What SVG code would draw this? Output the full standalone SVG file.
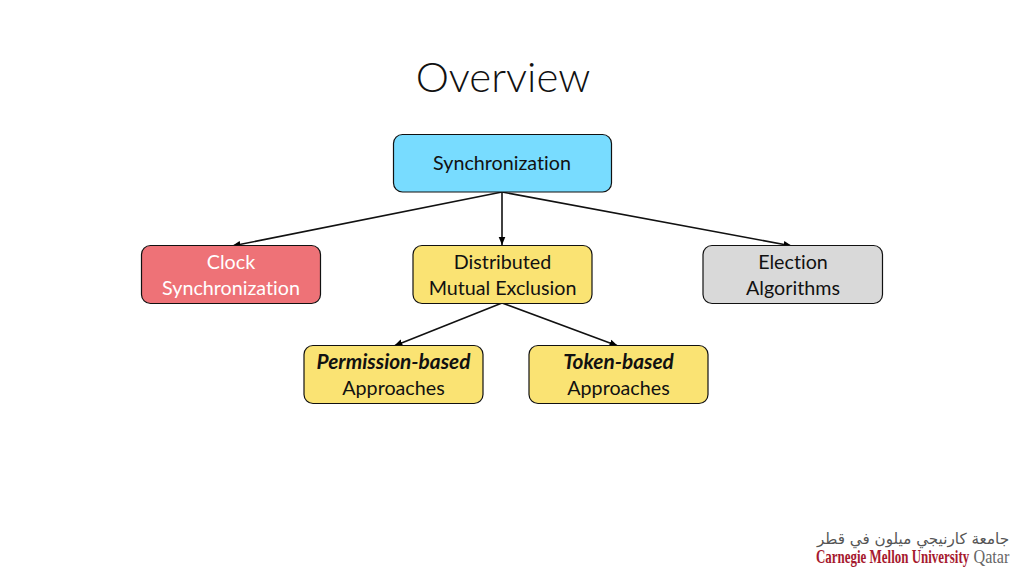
<svg xmlns="http://www.w3.org/2000/svg" width="1024" height="576" viewBox="0 0 1024 576">
<defs>
<marker id="arrow" markerUnits="userSpaceOnUse" markerWidth="10" markerHeight="8" refX="8.500" refY="4" orient="auto"><path d="M0 0.500L8.500 4L0 7.500z" fill="#000"/></marker>
</defs>
<style>
text{font-family:Lato,"Open Sans",sans-serif;font-size:19.700px;text-anchor:middle;fill:#111;font-variant-ligatures:none}
.box{stroke:#111;stroke-width:1.2}
.y{fill:#fae373}
.c{fill:none;stroke:#111;stroke-width:1.600;marker-end:url(#arrow)}
.bi{font-weight:700;font-style:italic;font-size:20.800px}
.w{fill:#fff}
</style>
<rect width="1024" height="576" fill="#fff"/>
<text id="title" x="503" y="92" style="font-size:42px;font-weight:300;fill:#111">Overview</text>
<g id="connectors">
<path class="c" d="M502 192L232 246"/>
<path class="c" d="M502 192V245"/>
<path class="c" d="M502 192L792 246"/>
<path class="c" d="M502 303L394 346"/>
<path class="c" d="M502 303L618 346"/>
</g>
<g id="n-sync"><rect class="box" x="393.500" y="134.500" width="218" height="57.500" rx="9" fill="#78dcff"/><text x="502" y="170">Synchronization</text></g>
<g id="n-clock"><rect class="box" x="141.500" y="245.500" width="179" height="58" rx="9" fill="#ee7277"/><text class="w" x="231" y="269">Clock</text><text class="w" x="231" y="295">Synchronization</text></g>
<g id="n-dme"><rect class="box y" x="413" y="245.500" width="179" height="58" rx="9"/><text x="502.500" y="269">Distributed</text><text x="502.500" y="295">Mutual Exclusion</text></g>
<g id="n-election"><rect class="box" x="703" y="245.500" width="179.500" height="58" rx="9" fill="#d9d9d9"/><text x="793" y="269">Election</text><text x="793" y="295">Algorithms</text></g>
<g id="n-perm"><rect class="box y" x="304" y="345.500" width="179" height="58" rx="9"/><text class="bi" x="393.500" y="369">Permission-based</text><text x="393.500" y="395">Approaches</text></g>
<g id="n-token"><rect class="box y" x="529" y="345.500" width="179" height="58" rx="9"/><text class="bi" x="618.500" y="369">Token-based</text><text x="618.500" y="395">Approaches</text></g>
<g id="logo">
<text x="913" y="544" direction="rtl" style="font-family:'DejaVu Sans',sans-serif;font-size:15.200px;fill:#555">جامعة كارنيجي ميلون في قطر</text>
<text transform="translate(816 563) scale(.72 1)" style="font-family:'Liberation Serif',serif;font-size:18px;font-weight:700;fill:#a6192e;text-anchor:start">Carnegie Mellon University</text>
<text transform="translate(973.500 563) scale(.9 1)" style="font-family:'Liberation Serif',serif;font-size:18px;fill:#666;text-anchor:start">Qatar</text>
</g>
</svg>
